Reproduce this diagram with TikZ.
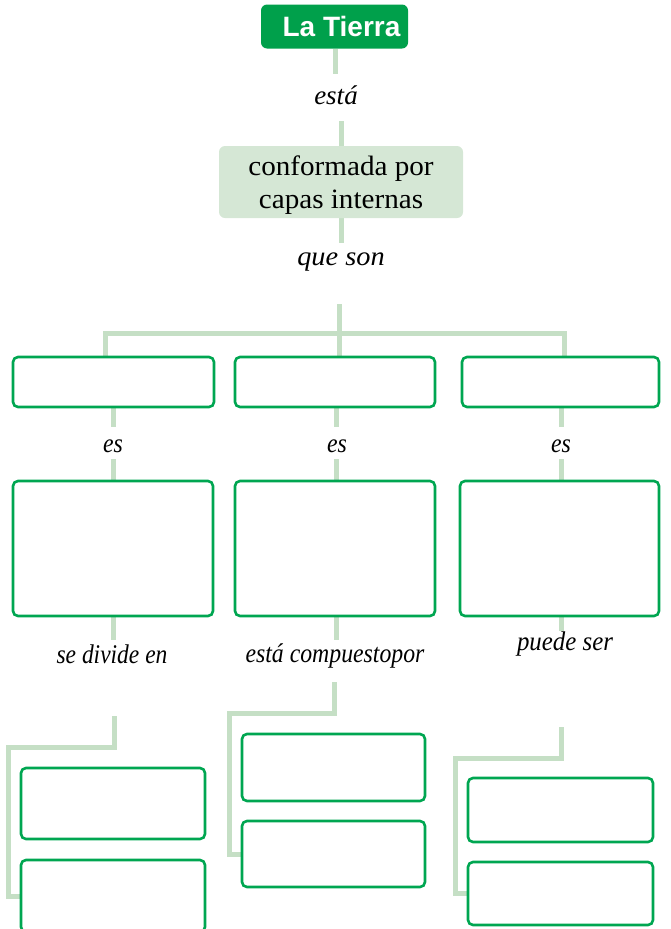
\documentclass[tikz,border=0pt]{standalone}
\usepackage{fontspec}
\setmainfont{Liberation Serif}
\newfontfamily\sansbold{Liberation Sans}
\usetikzlibrary{backgrounds}
\definecolor{darkg}{RGB}{0,160,75}
\definecolor{boxg}{RGB}{0,166,81}
\definecolor{lineg}{RGB}{197,223,197}
\definecolor{paleg}{RGB}{213,231,213}
\begin{document}
\begin{tikzpicture}[x=1pt,y=-1pt,
  conn/.style={draw=lineg, line width=5pt},
  blank/.style={draw=boxg, line width=2.6pt, rounded corners=5pt, fill=white, inner sep=0pt},
  lab/.style={inner sep=0pt, font=\fontsize{27}{30}\selectfont\itshape, anchor=base},
  clab/.style={lab},
]
\useasboundingbox (0,0) rectangle (670,929);
% top
\node[fill=darkg, rounded corners=6pt, minimum width=147pt, minimum height=44pt, inner sep=0pt,
      text=white, font=\sansbold\bfseries\fontsize{28}{30}\selectfont] (tierra) at (334.5,26.5) {\hspace*{14pt}La Tierra};
\node[lab] (esta) at (336,104) {está};
\node[fill=paleg, rounded corners=6pt, minimum width=244pt, minimum height=72pt, inner sep=0pt,
      font=\fontsize{28}{33}\selectfont] (capas) at (341,182)
      {\raisebox{-3pt}[\height][\depth]{\begin{tabular}{@{}c@{}}\scalebox{1.04}[1]{conformada por}\\\scalebox{1.04}[1]{capas internas}\end{tabular}}};
\node[lab] (queson) at (341,265) {\scalebox{1.05}[1]{que son}};
% top row
\node[blank, minimum width=201pt, minimum height=50pt] (t1) at (113.5,382) {};
\node[blank, minimum width=200pt, minimum height=50pt] (t2) at (335,382) {};
\node[blank, minimum width=197pt, minimum height=50pt] (t3) at (560.5,382) {};
\node[clab] (es1) at (113,452) {\scalebox{0.88}[1]{es}};
\node[clab] (es2) at (337,452) {\scalebox{0.88}[1]{es}};
\node[clab] (es3) at (561,452) {\scalebox{0.88}[1]{es}};
% middle row
\node[blank, minimum width=200pt, minimum height=135pt] (m1) at (113,548.5) {};
\node[blank, minimum width=200pt, minimum height=135pt] (m2) at (335,548.5) {};
\node[blank, minimum width=199pt, minimum height=135pt] (m3) at (559.5,548.5) {};
\node[clab] (sedivide) at (112,663) {\scalebox{0.87}[1]{se divide en}};
\node[clab] (compuesto) at (335,662) {\scalebox{0.88}[1]{está compuestopor}};
\node[clab] (puede) at (565,650) {\scalebox{0.92}[1]{puede ser}};
% lower boxes
\node[blank, minimum width=184pt, minimum height=71pt] (A) at (113,803.5) {};
\node[blank, minimum width=184pt, minimum height=72pt] (B) at (113,896) {};
\node[blank, minimum width=183pt, minimum height=67pt] (C) at (333.5,767.5) {};
\node[blank, minimum width=183pt, minimum height=66pt] (D) at (333.5,854) {};
\node[blank, minimum width=185pt, minimum height=64pt] (E) at (560.5,810) {};
\node[blank, minimum width=185pt, minimum height=63pt] (F) at (560.5,893.5) {};
% connector end points
\coordinate (a1) at (335.5,74);
\coordinate (a2) at (341,121);
\coordinate (a3) at (341,243);
\coordinate (a4) at (339,304);
\coordinate (hub) at (339,333);
\coordinate (hl) at (105,333);
\coordinate (hr) at (564,333);
\coordinate (b1) at (113,427);
\coordinate (b2) at (336,427);
\coordinate (b3) at (561,427);
\coordinate (c1) at (113,459);
\coordinate (c2) at (336,459);
\coordinate (c3) at (561,459);
\coordinate (d1) at (113,640);
\coordinate (d2) at (336,640);
\coordinate (d3) at (561,631);
\coordinate (f1) at (114,716);
\coordinate (f1b) at (8,747);
\coordinate (g1) at (334,682);
\coordinate (g1b) at (229,713);
\coordinate (h1) at (561,727);
\coordinate (h1b) at (455,758);
\begin{scope}[on background layer]
\draw[conn] (tierra.south -| a1) -- (a1);
\draw[conn] (a2) -- (capas.north);
\draw[conn] (capas.south) -- (a3);
\draw[conn] (a4) -- (t2.north -| hub);
\draw[conn] (t1.north -| hl) |- (hr) -- (t3.north -| hr);
\draw[conn] (t1.south -| b1) -- (b1);
\draw[conn] (t2.south -| b2) -- (b2);
\draw[conn] (t3.south -| b3) -- (b3);
\draw[conn] (c1) -- (m1.north -| c1);
\draw[conn] (c2) -- (m2.north -| c2);
\draw[conn] (c3) -- (m3.north -| c3);
\draw[conn] (m1.south -| d1) -- (d1);
\draw[conn] (m2.south -| d2) -- (d2);
\draw[conn] (m3.south -| d3) -- (d3);
\draw[conn] (f1) |- (f1b) |- (B.west);
\draw[conn] (g1) |- (g1b) |- (D.west);
\draw[conn] (h1) |- (h1b) |- (F.west);
\end{scope}
\end{tikzpicture}
\end{document}
